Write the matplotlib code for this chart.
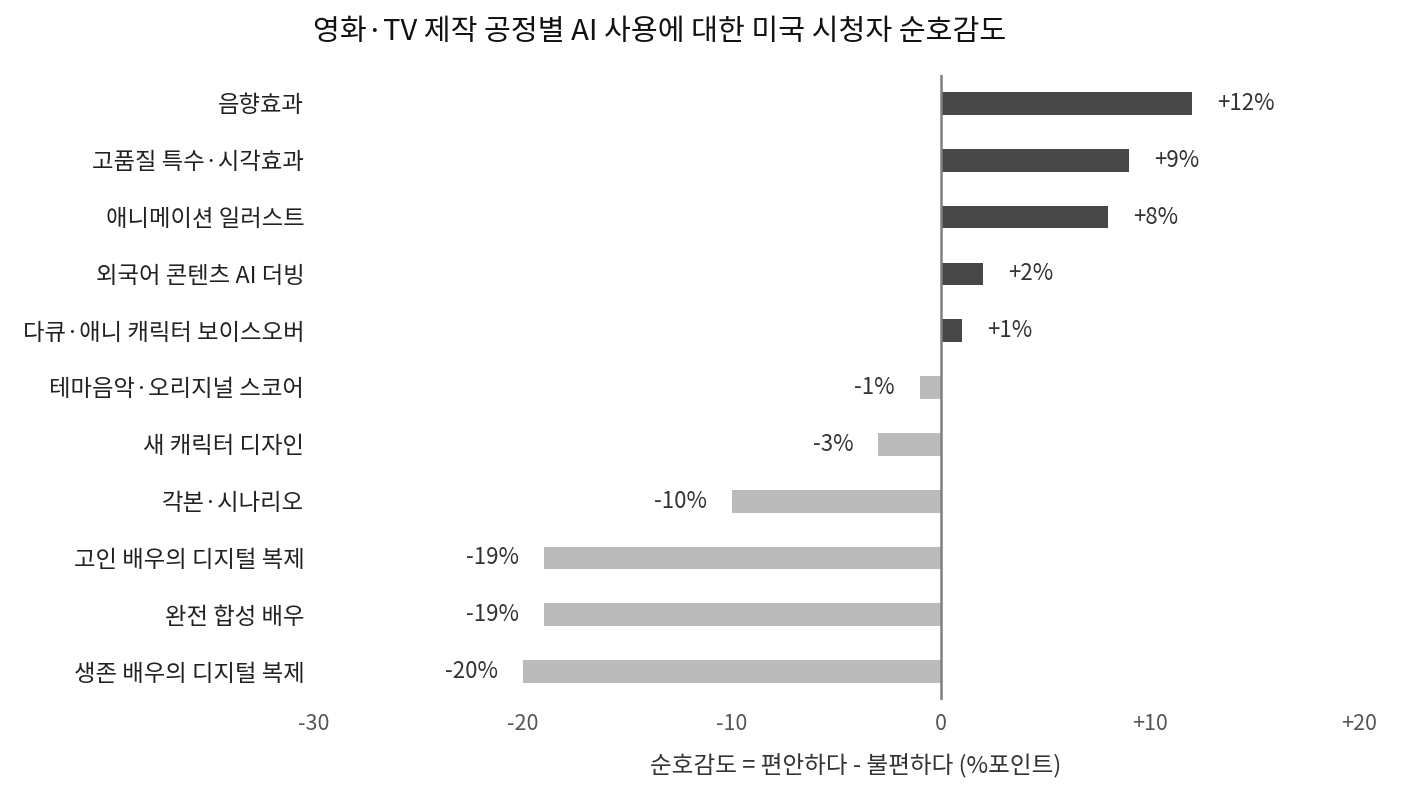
import matplotlib.pyplot as plt

plt.rcParams['font.family'] = ['Noto Sans CJK KR', 'DejaVu Sans']

# AI use in film/TV production stages, net comfort (comfortable - uncomfortable)
categories = ['음향효과', '고품질 특수·시각효과', '애니메이션 일러스트', '외국어 콘텐츠 AI 더빙',
              '다큐·애니 캐릭터 보이스오버', '테마음악·오리지널 스코어', '새 캐릭터 디자인',
              '각본·시나리오', '고인 배우의 디지털 복제', '완전 합성 배우', '생존 배우의 디지털 복제']
values = [12, 9, 8, 2, 1, -1, -3, -10, -19, -19, -20]
value_labels = ['+12%', '+9%', '+8%', '+2%', '+1%', '-1%', '-3%', '-10%', '-19%', '-19%', '-20%']
xticks = [-30, -20, -10, 0, 10, 20]
xtick_labels = ['-30', '-20', '-10', '0', '+10', '+20']

fig = plt.figure(figsize=(14.2, 7.99), dpi=100)
ax = fig.add_axes([314 / 1420, 1 - 700 / 799, (1359 - 314) / 1420, (700 - 75) / 799])

ypos = list(range(len(categories)))
colors = ['#474747' if v > 0 else '#bbbbbb' for v in values]
ax.barh(ypos, values, height=0.4, color=colors)
ax.axvline(0, color='#808080', lw=1.8)

for y, v, lab in zip(ypos, values, value_labels):
    if v > 0:
        ax.annotate(lab, (v, y), xytext=(25, 0), textcoords='offset pixels',
                    ha='left', va='center', fontsize=16, color='#333333')
    else:
        ax.annotate(lab, (v, y), xytext=(-25, 0), textcoords='offset pixels',
                    ha='right', va='center', fontsize=16, color='#333333')

ax.set_xlim(-30, 20)
ax.set_ylim(10.5, -0.5)
ax.set_yticks(ypos)
ax.set_yticklabels(categories, fontsize=16.8, color='#222222')
ax.set_xticks(xticks)
ax.set_xticklabels(xtick_labels, fontsize=15.5, color='#555555')
ax.tick_params(length=0)
ax.tick_params(axis='y', pad=7)
ax.tick_params(axis='x', pad=9)
for s in ax.spines.values():
    s.set_visible(False)

ax.set_xlabel('순호감도 = 편안하다 - 불편하다 (%포인트)', fontsize=17, color='#333333')
ax.xaxis.set_label_coords((856 - 314) / (1359 - 314), -(766 - 700) / (700 - 75))
ax.xaxis.label.set_va('center')
fig.text(660 / 1420, 1 - 32 / 799, '영화·TV 제작 공정별 AI 사용에 대한 미국 시청자 순호감도',
         ha='center', va='center', fontsize=21, color='#111111', fontweight='medium')

fig.savefig('out.png', dpi=100)
